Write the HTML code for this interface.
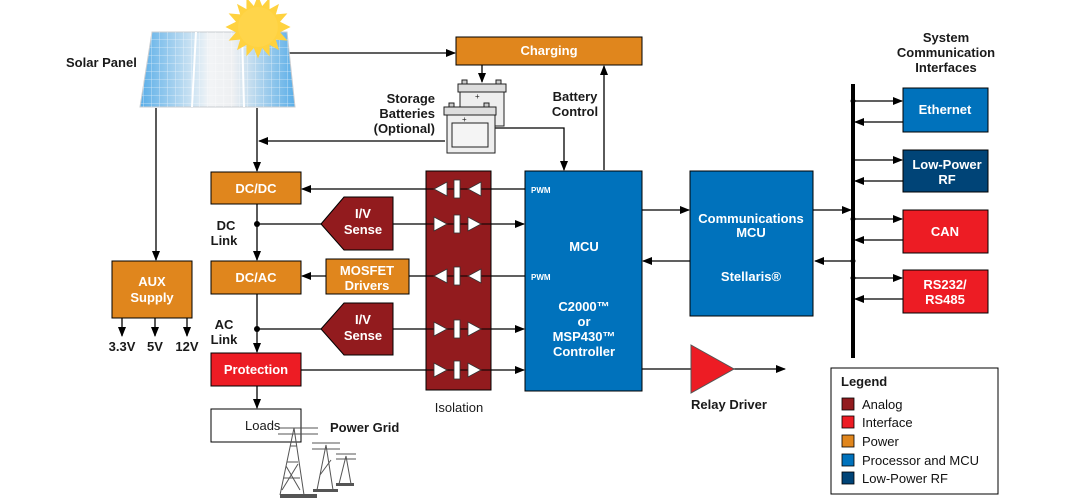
<!DOCTYPE html>
<html><head><meta charset="utf-8"><style>
html,body{margin:0;padding:0;background:#fff}
svg{display:block}
text{font-family:"Liberation Sans",Arial,sans-serif}
.b{font-weight:bold}
.w{fill:#fff;font-weight:bold;font-size:13px;text-anchor:middle}
.k{fill:#1a1a1a;font-weight:bold;font-size:13px}
</style></head><body>
<svg width="1091" height="501" viewBox="0 0 1091 501" xmlns="http://www.w3.org/2000/svg">
<defs>
<marker id="a" markerWidth="10" markerHeight="8" refX="9" refY="4" orient="auto" markerUnits="userSpaceOnUse"><path d="M0,0 L10,4 L0,8 z" fill="#000"/></marker>
<linearGradient id="pv" x1="0" x2="1" y1="0" y2="0"><stop offset="0" stop-color="#5aaee8"/><stop offset="0.45" stop-color="#f2f4f6"/><stop offset="0.6" stop-color="#eef0f2"/><stop offset="1" stop-color="#5aaee8"/></linearGradient>
<pattern id="grid" width="8" height="8" patternUnits="userSpaceOnUse"><path d="M8,0 V8 M0,8 H8" stroke="#ffffff" stroke-width="0.8" opacity="0.7"/></pattern>
</defs>
<g stroke="#000" stroke-width="1.3" fill="none">
<line x1="156" y1="108" x2="156" y2="260" marker-end="url(#a)"/>
<line x1="257" y1="108" x2="257" y2="171" marker-end="url(#a)"/>
<line x1="287" y1="53" x2="455" y2="53" marker-end="url(#a)"/>
<line x1="482" y1="65" x2="482" y2="82" marker-end="url(#a)"/>
<line x1="445" y1="141" x2="259" y2="141" marker-end="url(#a)"/>
<polyline points="495,128 564,128 564,170" marker-end="url(#a)"/>
<line x1="604" y1="170" x2="604" y2="66" marker-end="url(#a)"/>
<line x1="257" y1="204" x2="257" y2="260" marker-end="url(#a)"/>
<line x1="257" y1="294" x2="257" y2="352" marker-end="url(#a)"/>
<line x1="257" y1="386" x2="257" y2="408" marker-end="url(#a)"/>
<line x1="257" y1="224" x2="321" y2="224"/>
<line x1="257" y1="329" x2="321" y2="329"/>
<line x1="326" y1="276" x2="302" y2="276" marker-end="url(#a)"/>
<line x1="122" y1="318" x2="122" y2="336" marker-end="url(#a)"/>
<line x1="155" y1="318" x2="155" y2="336" marker-end="url(#a)"/>
<line x1="187" y1="318" x2="187" y2="336" marker-end="url(#a)"/>
<line x1="525" y1="189" x2="302" y2="189" marker-end="url(#a)"/>
<line x1="393" y1="224" x2="524" y2="224" marker-end="url(#a)"/>
<line x1="525" y1="276" x2="409" y2="276"/>
<line x1="393" y1="329" x2="524" y2="329" marker-end="url(#a)"/>
<line x1="301" y1="370" x2="524" y2="370" marker-end="url(#a)"/>
<line x1="642" y1="210" x2="689" y2="210" marker-end="url(#a)"/>
<line x1="690" y1="261" x2="643" y2="261" marker-end="url(#a)"/>
<line x1="813" y1="210" x2="851" y2="210" marker-end="url(#a)"/>
<line x1="853" y1="261" x2="815" y2="261" marker-end="url(#a)"/>
<line x1="642" y1="369" x2="785" y2="369" marker-end="url(#a)"/>
<line x1="853" y1="101" x2="902" y2="101" marker-end="url(#a)"/>
<line x1="903" y1="122" x2="855" y2="122" marker-end="url(#a)"/>
<line x1="853" y1="160" x2="902" y2="160" marker-end="url(#a)"/>
<line x1="903" y1="181" x2="855" y2="181" marker-end="url(#a)"/>
<line x1="853" y1="219" x2="902" y2="219" marker-end="url(#a)"/>
<line x1="903" y1="240" x2="855" y2="240" marker-end="url(#a)"/>
<line x1="853" y1="278" x2="902" y2="278" marker-end="url(#a)"/>
<line x1="903" y1="299" x2="855" y2="299" marker-end="url(#a)"/>
</g>
<line x1="853" y1="84" x2="853" y2="358" stroke="#000" stroke-width="4"/>
<g fill="#000"><circle cx="853" cy="101" r="2.5"/><circle cx="853" cy="219" r="2.5"/><circle cx="853" cy="261" r="2.5"/><circle cx="853" cy="278" r="2.5"/><circle cx="257" cy="224" r="3"/><circle cx="257" cy="329" r="3"/></g>

<polygon points="152,32 287,32 295,107 140,107" fill="url(#pv)" stroke="#c8ccd0"/>
<polygon points="152,32 287,32 295,107 140,107" fill="url(#grid)"/>
<line x1="196" y1="32" x2="192" y2="107" stroke="#fff" stroke-width="2"/>
<line x1="242" y1="32" x2="244" y2="107" stroke="#fff" stroke-width="2"/>
<g transform="translate(258,27) scale(1.05)">
<polygon fill="#ffd23f" points="0,-30 4,-20 11,-28 11,-17 20,-22 17,-12 28,-13 21,-5 31,0 21,5 28,13 17,12 20,22 11,17 11,28 4,20 0,30 -4,20 -11,28 -11,17 -20,22 -17,12 -28,13 -21,5 -31,0 -21,-5 -28,-13 -17,-12 -20,-22 -11,-17 -11,-28 -4,-20"/>
<circle r="19" fill="#ffd54a"/>
</g>
<text x="66" y="67" class="k">Solar Panel</text>

<rect x="456" y="37" width="186" height="28" fill="#e0861d" stroke="#000"/>
<text x="549" y="55" class="w">Charging</text>
<g stroke="#222" stroke-width="1" fill="#eee">
<rect x="460" y="90" width="44" height="36"/><rect x="458" y="84" width="48" height="8" fill="#ddd"/>
<rect x="447" y="113" width="48" height="40"/><rect x="444" y="107" width="52" height="8" fill="#ddd"/>
<rect x="452" y="123" width="36" height="24" fill="#f4f4f4"/>
<rect x="462" y="80" width="5" height="4" fill="#ccc"/><rect x="496" y="80" width="5" height="4" fill="#ccc"/>
<rect x="449" y="103" width="5" height="4" fill="#ccc"/><rect x="484" y="103" width="5" height="4" fill="#ccc"/>
</g>
<g fill="#222" font-size="8" font-family="Liberation Sans"><text x="475" y="99">+</text><text x="462" y="122">+</text></g>
<text x="435" y="103" class="k" text-anchor="end">Storage</text>
<text x="435" y="118" class="k" text-anchor="end">Batteries</text>
<text x="435" y="133" class="k" text-anchor="end">(Optional)</text>
<text x="575" y="101" class="k" text-anchor="middle">Battery</text>
<text x="575" y="116" class="k" text-anchor="middle">Control</text>

<rect x="211" y="172" width="90" height="32" fill="#e0861d" stroke="#000"/>
<text x="256" y="193" class="w">DC/DC</text>
<rect x="211" y="261" width="90" height="33" fill="#e0861d" stroke="#000"/>
<text x="256" y="282" class="w">DC/AC</text>
<rect x="112" y="261" width="80" height="57" fill="#e0861d" stroke="#000"/>
<text x="152" y="286" class="w">AUX</text><text x="152" y="302" class="w">Supply</text>
<rect x="326" y="259" width="83" height="35" fill="#e0861d" stroke="#000"/>
<text x="367" y="275" class="w">MOSFET</text><text x="367" y="290" class="w">Drivers</text>
<rect x="211" y="353" width="90" height="33" fill="#ed1c24" stroke="#000"/>
<text x="256" y="374" class="w">Protection</text>
<rect x="211" y="409" width="90" height="33" fill="#fff" stroke="#000"/>
<text x="245" y="430" class="k" style="font-weight:normal">Loads</text>
<text x="226" y="230" class="k" text-anchor="middle">DC</text><text x="224" y="245" class="k" text-anchor="middle">Link</text>
<text x="224" y="329" class="k" text-anchor="middle">AC</text><text x="224" y="344" class="k" text-anchor="middle">Link</text>
<text x="122" y="351" class="k" text-anchor="middle" font-size="12">3.3V</text>
<text x="155" y="351" class="k" text-anchor="middle" font-size="12">5V</text>
<text x="187" y="351" class="k" text-anchor="middle" font-size="12">12V</text>

<polygon points="321,224 344,197 393,197 393,250 344,250" fill="#921b1e" stroke="#000"/>
<text x="363" y="218" class="w">I/V</text><text x="363" y="234" class="w">Sense</text>
<polygon points="321,329 344,303 393,303 393,355 344,355" fill="#921b1e" stroke="#000"/>
<text x="363" y="324" class="w">I/V</text><text x="363" y="340" class="w">Sense</text>

<rect x="426" y="171" width="65" height="219" fill="#921b1e" stroke="#000"/>
<g stroke="#000" stroke-width="1">
<line x1="426" y1="189" x2="491" y2="189"/><line x1="426" y1="224" x2="491" y2="224"/><line x1="426" y1="276" x2="491" y2="276"/><line x1="426" y1="329" x2="491" y2="329"/><line x1="426" y1="370" x2="491" y2="370"/>
</g>
<g fill="#fff" stroke="#333" stroke-width="0.8">
<polygon points="434,189 447,182 447,196"/><polygon points="468,189 481,182 481,196"/><rect x="454" y="180" width="6" height="18"/>
<polygon points="434,217 434,231 447,224"/><polygon points="468,217 468,231 481,224"/><rect x="454" y="215" width="6" height="18"/>
<polygon points="434,276 447,269 447,283"/><polygon points="468,276 481,269 481,283"/><rect x="454" y="267" width="6" height="18"/>
<polygon points="434,322 434,336 447,329"/><polygon points="468,322 468,336 481,329"/><rect x="454" y="320" width="6" height="18"/>
<polygon points="434,363 434,377 447,370"/><polygon points="468,363 468,377 481,370"/><rect x="454" y="361" width="6" height="18"/>
</g>
<text x="459" y="412" class="k" style="font-weight:normal" text-anchor="middle">Isolation</text>

<rect x="525" y="171" width="117" height="220" fill="#0072bc" stroke="#000"/>
<text x="531" y="193" fill="#fff" class="b" font-size="8">PWM</text>
<text x="531" y="280" fill="#fff" class="b" font-size="8">PWM</text>
<text x="584" y="251" class="w">MCU</text>
<text x="584" y="311" class="w">C2000™</text><text x="584" y="326" class="w">or</text>
<text x="584" y="341" class="w">MSP430™</text><text x="584" y="356" class="w">Controller</text>

<rect x="690" y="171" width="123" height="145" fill="#0072bc" stroke="#000"/>
<text x="751" y="223" class="w">Communications</text><text x="751" y="237" class="w">MCU</text>
<text x="751" y="281" class="w">Stellaris®</text>

<polygon points="691,345 734,369 691,393" fill="#ed1c24" stroke="#555"/>
<text x="729" y="409" class="k" text-anchor="middle">Relay Driver</text>

<text x="946" y="42" class="k" text-anchor="middle">System</text>
<text x="946" y="57" class="k" text-anchor="middle">Communication</text>
<text x="946" y="72" class="k" text-anchor="middle">Interfaces</text>
<rect x="903" y="88" width="85" height="44" fill="#0072bc" stroke="#000"/>
<text x="945" y="114" class="w">Ethernet</text>
<rect x="903" y="150" width="85" height="42" fill="#004477" stroke="#000"/>
<text x="947" y="169" class="w">Low-Power</text><text x="947" y="184" class="w">RF</text>
<rect x="903" y="210" width="85" height="43" fill="#ed1c24" stroke="#000"/>
<text x="945" y="236" class="w">CAN</text>
<rect x="903" y="270" width="85" height="43" fill="#ed1c24" stroke="#000"/>
<text x="945" y="289" class="w">RS232/</text><text x="945" y="304" class="w">RS485</text>

<g stroke="#555" stroke-width="1" fill="none">
<path d="M280,495 L294,428 L304,495 M284,478 L300,478 M287,462 L298,462 M290,446 L297,446 M282,490 L298,464 M300,490 L286,466"/>
<path d="M278,428 H318 M278,434 H318"/>
<path d="M317,490 L326,445 L333,490 M312,443 H340 M312,449 H340 M320,475 L331,460"/>
<path d="M339,484 L346,456 L351,484 M336,454 H356 M336,459 H356"/>
</g>
<g fill="#555"><rect x="280" y="494" width="37" height="4"/><rect x="313" y="489" width="25" height="3"/><rect x="336" y="483" width="18" height="3"/></g>
<text x="330" y="432" class="k" text-anchor="start">Power Grid</text>

<rect x="831" y="368" width="167" height="126" fill="#fff" stroke="#000"/>
<text x="841" y="386" class="k">Legend</text>
<g stroke="#000" stroke-width="0.8">
<rect x="842" y="398" width="12" height="12" fill="#921b1e"/>
<rect x="842" y="416" width="12" height="12" fill="#ed1c24"/>
<rect x="842" y="435" width="12" height="12" fill="#e0861d"/>
<rect x="842" y="454" width="12" height="12" fill="#0072bc"/>
<rect x="842" y="472" width="12" height="12" fill="#004477"/>
</g>
<g font-size="13" fill="#111">
<text x="862" y="409">Analog</text><text x="862" y="427">Interface</text><text x="862" y="446">Power</text>
<text x="862" y="465">Processor and MCU</text><text x="862" y="483">Low-Power RF</text>
</g>
</svg>
</body></html>
